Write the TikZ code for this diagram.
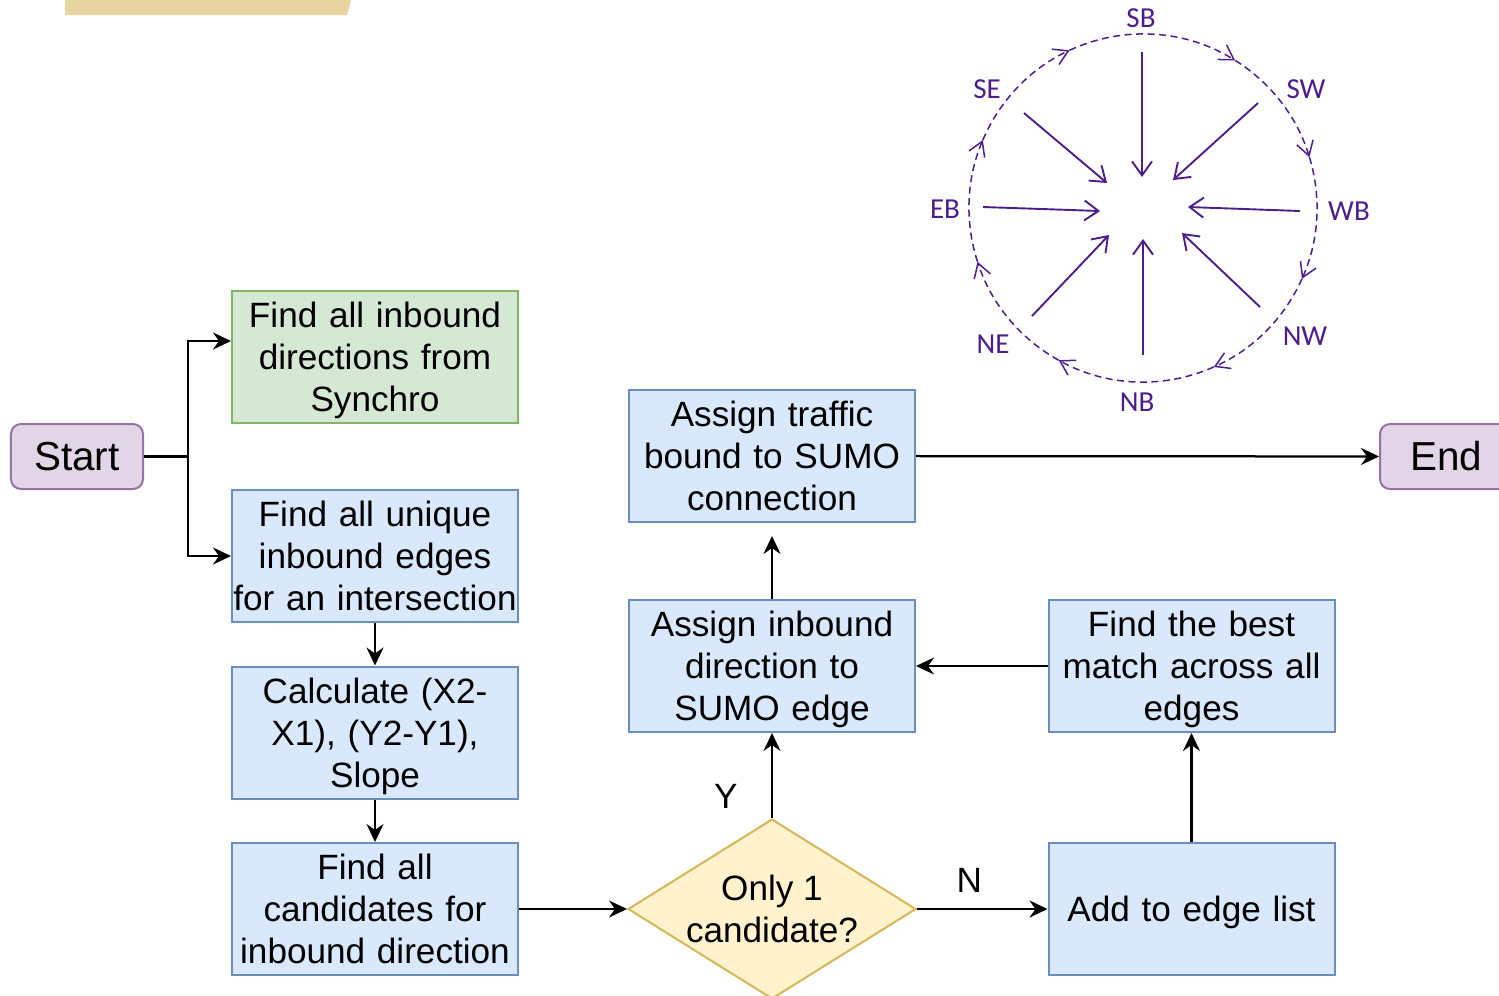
\documentclass[tikz,border=0pt]{standalone}
\usepackage{fontspec}
\setmainfont{Liberation Sans}
\newfontfamily\compassfont{Carlito}
\usetikzlibrary{shapes.geometric,arrows.meta}
\definecolor{paleblue}{HTML}{DAE8FC}
\definecolor{darkblue}{HTML}{6C8EBF}
\definecolor{palegreen}{HTML}{D5E8D4}
\definecolor{darkgreen}{HTML}{82B366}
\definecolor{palepurple}{HTML}{E1D5E7}
\definecolor{darkpurple}{HTML}{9673A6}
\definecolor{paleyellow}{HTML}{FFF2CC}
\definecolor{darkyellow}{HTML}{D6B656}
\definecolor{sandbar}{RGB}{232,212,160}
\definecolor{compass}{RGB}{75,30,140}
\newcommand{\flatline}[1]{\raisebox{0pt}[\height][0pt]{#1}}

\begin{document}
\begin{tikzpicture}[
  x=0.2mm, y=-0.2mm,
  stepbox/.style={rectangle, draw=darkblue, fill=paleblue, line width=0.4mm,
                  minimum width=57.2mm, minimum height=26.4mm, text width=57mm,
                  align=center, inner sep=0mm, font=\fontsize{20}{24}\selectfont},
  sourcebox/.style={stepbox, draw=darkgreen, fill=palegreen},
  terminal/.style={rectangle, rounded corners=2mm, draw=darkpurple, fill=palepurple,
                   line width=0.4mm, minimum width=26.4mm, minimum height=13mm,
                   font=\fontsize{23}{27}\selectfont},
  decision/.style={diamond, draw=darkyellow, fill=paleyellow, line width=0.4mm,
                   minimum width=57.6mm, minimum height=34.8mm, inner sep=-3mm,
                   align=center, font=\fontsize{20}{24}\selectfont},
  flowarrow/.style={line width=0.45mm, -{Stealth[length=3.6mm, width=3.4mm, inset=1.2mm]}},
  answer/.style={font=\fontsize{20}{24}\selectfont},
  dirlabel/.style={text=compass, font=\compassfont\fontsize{16.5}{18}\selectfont},
  inarrow/.style={compass, line width=0.38mm, -{Straight Barb[length=2.8mm, width=4mm]}},
  roundarrow/.style={compass, line width=0.3mm, dash pattern=on 1.4mm off 0.9mm,
                     -{Straight Barb[length=2.8mm, width=3.4mm]}}
]
  \useasboundingbox (0,0) rectangle (1499,995);
  \fill[sandbar] (65,0) -- (351,0) -- (347,15) -- (65,15) -- cycle;

  \node[terminal] (start) at (77,456.5) {Start};
  \node[sourcebox] (synchro) at (375,357) {Find all inbound\\directions from\\\flatline{Synchro}};
  \node[stepbox] (edges) at (375,556) {Find all unique\\inbound edges\\for an intersection};
  \node[stepbox] (slope) at (375,732.5) {Calculate (X2-\\X1), (Y2-Y1),\\\flatline{Slope}};
  \node[stepbox] (cands) at (375,909) {Find all\\candidates for\\inbound direction};
  \node[decision] (only) at (772,909) {Only 1\\candidate?};
  \node[stepbox] (addlist) at (1191.5,909) {\flatline{Add to edge list}};
  \node[stepbox] (best) at (1191.5,666) {Find the best\\match across all\\\flatline{edges}};
  \node[stepbox] (assigndir) at (772,666) {Assign inbound\\direction to\\\flatline{SUMO edge}};
  \node[stepbox] (assignbound) at (772,456) {Assign traffic\\bound to SUMO\\connection};
  \node[terminal] (end) at (1446,456.5) {End};

  \coordinate (fork) at (188,456.5);
  \draw[line width=0.45mm] (start) -- (fork);
  \draw[flowarrow] (fork) |- ([yshift=3.2mm]synchro.west);
  \draw[flowarrow] (fork) |- (edges.west);
  \draw[flowarrow] (edges) -- (slope);
  \draw[flowarrow] (slope) -- (cands);
  \draw[flowarrow] (cands) -- (only);
  \draw[flowarrow] (only) -- node[answer, pos=0.4, above=2mm] {N} (addlist);
  \draw[flowarrow] (only) -- node[answer, pos=0.25, left=5.5mm] {Y} (assigndir);
  \draw[flowarrow] (addlist) -- (best);
  \draw[flowarrow] (best) -- (assigndir);
  \draw[flowarrow, shorten >=2.6mm] (assigndir) -- (assignbound);
  \draw[flowarrow] (assignbound) -- (end);

  \coordinate (hub) at (1143,208);
  \foreach \a/\b in {-157/-115, -115/-58, -58/-17, -17/24, 24/66, 66/119, 119/162, 162/203}
    \draw[roundarrow] ([shift={(\a:174)}]hub) arc[start angle=\a, end angle=\b, radius=174];
  \foreach \sx/\sy/\ex/\ey in {1142/52/1142/177, 1258/103/1173/180, 1300/211/1188/207,
                               1260/307/1182/233, 1143/355/1143/239, 1032/316/1109/235,
                               983/207/1100/211, 1024/113/1107/183}
    \draw[inarrow] (\sx,\sy) -- (\ex,\ey);
  \foreach \d/\px/\py in {SB/1141/18, SW/1306/89, WB/1349/211, NW/1305/336,
                          NB/1137/402, NE/993/344, EB/945/209, SE/987/89}
    \node[dirlabel] (\d) at (\px,\py) {\d};
\end{tikzpicture}
\end{document}
